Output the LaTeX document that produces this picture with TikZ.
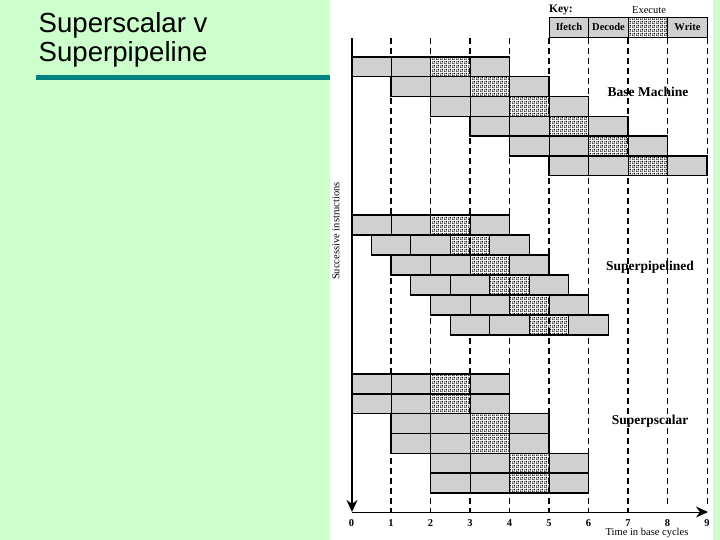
\documentclass[tikz,border=0pt]{standalone}
\usepackage{fontspec}
\setmainfont{Liberation Serif}
\newfontfamily\titlefont{Liberation Sans}
\usetikzlibrary{patterns,arrows.meta}
\definecolor{bggreen}{RGB}{204,255,204}
\definecolor{ruleteal}{RGB}{0,128,128}
\definecolor{boxgray}{RGB}{208,208,208}
\pgfdeclarepatternformonly{densedots}{\pgfqpoint{0pt}{0pt}}{\pgfqpoint{4pt}{4pt}}{\pgfqpoint{4pt}{4pt}}{%
  \pgfpathcircle{\pgfqpoint{1pt}{1pt}}{0.95pt}%
  \pgfpathcircle{\pgfqpoint{3pt}{3pt}}{0.95pt}%
  \pgfpathcircle{\pgfqpoint{3pt}{1pt}}{0.5pt}%
  \pgfpathcircle{\pgfqpoint{1pt}{3pt}}{0.5pt}%
  \pgfusepath{fill}}
\newcommand\instrrow[3]{%
  \pgfmathsetmacro\xa{351.5+39.5*(#1)}%
  \pgfmathsetmacro\ya{#2}%
  \draw[gbox] (\xa,\ya) rectangle ++(39.5,#3);
  \draw[gbox] (\xa+39.5,\ya) rectangle ++(39.5,#3);
  \draw[hbox] (\xa+79,\ya) rectangle ++(39.5,#3);
  \draw[gbox] (\xa+118.5,\ya) rectangle ++(39.5,#3);
  \draw[instrframe] (\xa,\ya) rectangle ++(158,#3);
}
\begin{document}
\begin{tikzpicture}[x=1pt,y=-1pt,
  gbox/.style={fill=boxgray,draw=black,line width=0.9pt},
  hbox/.style={pattern=densedots,pattern color=black,draw=black,line width=0.9pt},
  instrframe/.style={draw=black,line width=1.4pt},
  gridline/.style={dash pattern=on 6pt off 4pt,line width=1.4pt},
  thingrid/.style={dash pattern=on 6pt off 4pt,line width=0.9pt},
  lbl/.style={font=\bfseries\fontsize{13.5}{15}\selectfont},
  small/.style={font=\fontsize{10.5}{12}\selectfont},
  smallb/.style={font=\bfseries\fontsize{10.5}{12}\selectfont},
  axisline/.style={line width=1.5pt,-{Stealth[length=12pt,width=11pt]}},
  haxisline/.style={line width=1pt,-{Stealth[length=12pt,width=11pt]}}]
\useasboundingbox (0,0) rectangle (720,540);
% backgrounds
\fill[bggreen] (0,0) rectangle (720,540);
\fill[white] (330,0) rectangle (713,540);
% title
\node[anchor=base west,inner sep=0pt,font=\titlefont\fontsize{27.6}{29}\selectfont] (title1) at (38.5,33) {Superscalar v};
\node[anchor=base west,inner sep=0pt,font=\titlefont\fontsize{27.6}{29}\selectfont] (title2) at (38.5,62) {Superpipeline};
\fill[ruleteal] (36,75) rectangle (330,80);
% grid lines
\foreach \n in {1,...,7} \draw[gridline] ({351.5+39.5*\n},38) -- ({351.5+39.5*\n},512);
\foreach \n in {8,9} \draw[thingrid] ({351.5+39.5*\n},38) -- ({351.5+39.5*\n},505);
% base machine
\foreach \i in {0,...,5} {\instrrow{\i}{57+19.8*\i}{19.8}}
% superpipelined
\foreach \i in {0,...,5} {\instrrow{0.5*\i}{215+20*\i}{20}}
% superscalar
\foreach \i in {0,...,5} {\instrrow{floor(\i/2)}{374+19.8*\i}{19.8}}
% section labels
\node[lbl] (base) at (648,92) {Base Machine};
\node[lbl] (spipe) at (650,267) {Superpipelined};
\node[lbl] (sscal) at (650,421) {Superpscalar};
% key
\node[smallb,font=\bfseries\fontsize{11.5}{12}\selectfont] (keylbl) at (561,10) {Key:};
\node[small] (keyexec) at (649,10) {Execute};
\draw[gbox] (549.3,17.3) rectangle ++(39.5,20);
\draw[gbox] (588.8,17.3) rectangle ++(39.5,20);
\draw[hbox] (628.3,17.3) rectangle ++(39.5,20);
\draw[gbox] (667.8,17.3) rectangle ++(39.5,20);
\draw[instrframe] (549.3,17.3) rectangle ++(158,20);
\node[smallb] (kif) at (569,27.3) {Ifetch};
\node[smallb] (kdec) at (608.5,27.3) {Decode};
\node[smallb] (kwr) at (687.5,27.3) {Write};
% axes
\coordinate (ytop) at (352,38);
\coordinate (origin) at (352,512);
\coordinate (xend) at (708,512);
\draw[haxisline] (origin) -- (xend);
\draw[axisline] (ytop) -- (origin);
\foreach \n in {0,...,9} \node[smallb] (tick\n) at ({351.5+39.5*\n},523) {\n};
\node[small] (xlabel) at (647,533) {Time in base cycles};
\node[small,rotate=90] (ylabel) at (336,231) {Successive instructions};
\end{tikzpicture}
\end{document}
